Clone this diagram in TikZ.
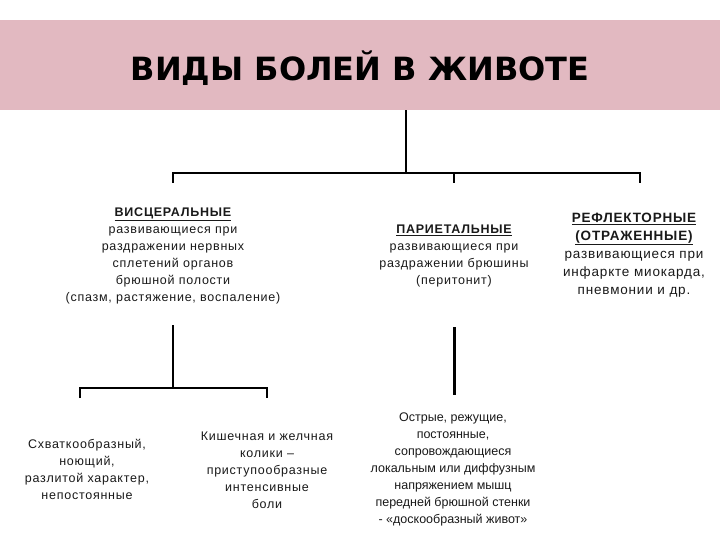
\documentclass[tikz,border=0pt]{standalone}
\usepackage{fontspec}
\setmainfont{Liberation Sans}
\newfontfamily\titlefont{DejaVu Sans}
\usetikzlibrary{positioning,calc}
\definecolor{bandpink}{RGB}{226,185,193}

\begin{document}
\begin{tikzpicture}[x=1pt,y=-1pt,
  tree/.style={line width=2pt},
  txt/.style={align=center,inner sep=0pt,text=black!90,font=\fontsize{12.5}{17}\selectfont\addfontfeatures{LetterSpace=6}}]
  \useasboundingbox (0,0) rectangle (720,540);
  % title band
  \node[fill=bandpink,minimum width=720pt,minimum height=90pt,inner sep=0pt] (band) at (360,65) {};
  \node[font=\titlefont\fontsize{32}{36}\selectfont\bfseries] (title) at (360,68) {ВИДЫ БОЛЕЙ В ЖИВОТЕ};
  % first level
  \node[txt] (visc) at (173,256) {\textbf{\underline{ВИСЦЕРАЛЬНЫЕ}}\\развивающиеся при\\раздражении нервных\\сплетений органов\\брюшной полости\\(спазм, растяжение, воспаление)};
  \node[txt] (pariet) at (454,256) {\textbf{\underline{ПАРИЕТАЛЬНЫЕ}}\\развивающиеся при\\раздражении брюшины\\(перитонит)};
  \node[txt,font=\fontsize{13.5}{18}\selectfont\addfontfeatures{LetterSpace=6}] (reflex) at (634,255) {\textbf{\underline{РЕФЛЕКТОРНЫЕ}}\\\textbf{\underline{(ОТРАЖЕННЫЕ)}}\\развивающиеся при\\инфаркте миокарда,\\пневмонии и др.};
  % second level
  \node[txt] (spasm) at (87,469) {Схваткообразный,\\ноющий,\\разлитой характер,\\непостоянные};
  \node[txt] (colic) at (267,470) {Кишечная и желчная\\колики --\\приступообразные\\интенсивные\\боли};
  \node[txt,font=\fontsize{12.5}{17}\selectfont] (sharp) at (453,469) {Острые, режущие,\\постоянные,\\сопровождающиеся\\локальным или диффузным\\напряжением мышц\\передней брюшной стенки\\- «доскообразный живот»};
  % connectors
  \coordinate (hub) at (406,173);
  \coordinate (b1) at (173,183);
  \coordinate (b2) at (454,183);
  \coordinate (b3) at (640,183);
  \draw[tree] (band.south -| hub) -- (hub);
  \draw[tree] (b1) |- (hub) -| (b3);
  \draw[tree] (hub -| b2) -- (b2);
  \coordinate (v0) at (173,325);
  \coordinate (vh) at (173,388);
  \coordinate (l1) at (80,398);
  \coordinate (l2) at (267,398);
  \draw[tree] (v0) -- (vh);
  \draw[tree] (l1) |- (vh) -| (l2);
  \coordinate (p0) at (454,327);
  \coordinate (p1) at (454,395);
  \draw[tree,line width=3pt] (p0) -- (p1);
\end{tikzpicture}
\end{document}
